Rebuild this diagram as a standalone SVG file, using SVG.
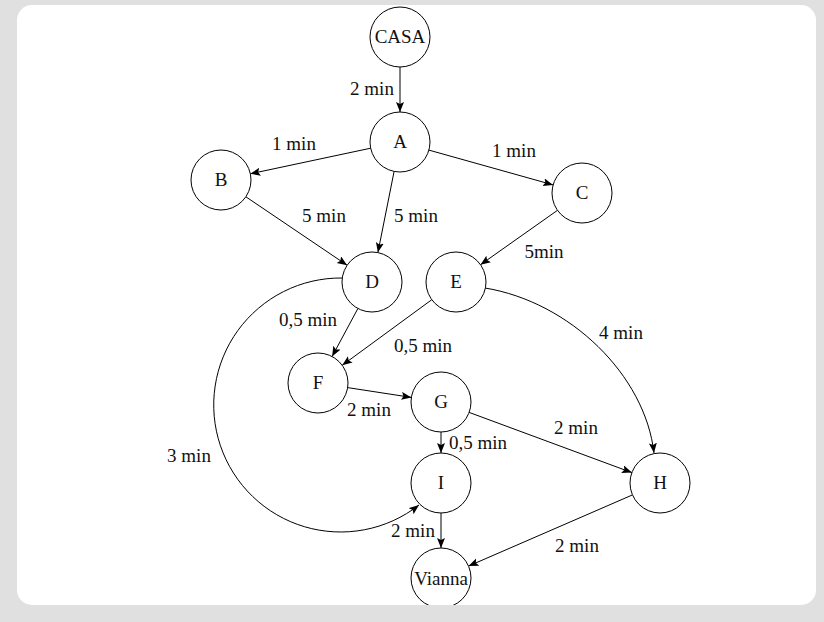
<svg xmlns="http://www.w3.org/2000/svg" width="824" height="622" viewBox="0 0 824 622">
<style>
.bg{fill:#e0e0e0}
.panel{fill:#ffffff}
.node circle{fill:#ffffff;stroke:#000;stroke-width:1}
.node text,.lbl{font-size:19px;fill:#111;text-anchor:middle}
.edge{fill:none;stroke:#000;stroke-width:1;marker-end:url(#arr)}
</style>
<defs>
<marker id="arr" markerUnits="userSpaceOnUse" markerWidth="11" markerHeight="9" refX="10" refY="4" orient="auto">
<path d="M0,0 L10,4 L0,8 L2,4 Z" fill="#000"/>
</marker>
<clipPath id="pc"><rect x="17" y="5" width="799" height="600" rx="15" ry="15"/></clipPath>
</defs>
<rect class="bg" x="0" y="0" width="824" height="622"/>
<rect class="panel" x="17" y="5" width="799" height="600" rx="15" ry="15"/>
<g clip-path="url(#pc)" font-family="'Liberation Serif', 'Times New Roman', 'DejaVu Serif', serif">
<g id="connectors">
<path class="edge" d="M400,67 L400,112"/>
<path class="edge" d="M370.7,148.2 L250.3,173.8"/>
<path class="edge" d="M428.9,150.1 L553.1,184.9"/>
<path class="edge" d="M394.1,171.4 L377.9,252.6"/>
<path class="edge" d="M245.9,196.8 L347.1,265.2"/>
<path class="edge" d="M557.5,210.3 L480.5,264.7"/>
<path class="edge" d="M357.9,308.5 L332.1,356.5"/>
<path class="edge" d="M431.8,299.7 L342.2,365.3"/>
<path class="edge" d="M347.6,387.6 L411.4,397.4"/>
<path class="edge" d="M469.1,412.4 L631.9,472.6"/>
<path class="edge" d="M441,432 L441,453"/>
<path class="edge" d="M441,513 L441,548"/>
<path class="edge" d="M632.5,494.9 L468.5,566.1"/>
<path class="edge" d="M485,288 C570,302 645,375 654,453"/>
<path class="edge" d="M342,278 A127,127 0 1 0 419,505"/>
</g>
<g id="edge-labels">
<text class="lbl" x="372" y="95">2 min</text>
<text class="lbl" x="294" y="150">1 min</text>
<text class="lbl" x="514" y="157">1 min</text>
<text class="lbl" x="324" y="222">5 min</text>
<text class="lbl" x="416" y="222">5 min</text>
<text class="lbl" x="544" y="258">5min</text>
<text class="lbl" x="308" y="326">0,5 min</text>
<text class="lbl" x="423" y="352">0,5 min</text>
<text class="lbl" x="621" y="339">4 min</text>
<text class="lbl" x="369" y="416">2 min</text>
<text class="lbl" x="576" y="434">2 min</text>
<text class="lbl" x="478" y="449">0,5 min</text>
<text class="lbl" x="189" y="462">3 min</text>
<text class="lbl" x="413" y="537">2 min</text>
<text class="lbl" x="577" y="552">2 min</text>
</g>
<g id="CASA" class="node"><circle cx="400" cy="37" r="30"/><text x="400" y="43">CASA</text></g>
<g id="A" class="node"><circle cx="400" cy="142" r="30"/><text x="400" y="148">A</text></g>
<g id="B" class="node"><circle cx="221" cy="180" r="30"/><text x="221" y="186">B</text></g>
<g id="C" class="node"><circle cx="582" cy="193" r="30"/><text x="582" y="199">C</text></g>
<g id="D" class="node"><circle cx="372" cy="282" r="30"/><text x="372" y="288">D</text></g>
<g id="E" class="node"><circle cx="456" cy="282" r="30"/><text x="456" y="288">E</text></g>
<g id="F" class="node"><circle cx="318" cy="383" r="30"/><text x="318" y="389">F</text></g>
<g id="G" class="node"><circle cx="441" cy="402" r="30"/><text x="441" y="408">G</text></g>
<g id="I" class="node"><circle cx="441" cy="483" r="30"/><text x="441" y="489">I</text></g>
<g id="H" class="node"><circle cx="660" cy="483" r="30"/><text x="660" y="489">H</text></g>
<g id="Vianna" class="node"><circle cx="441" cy="578" r="30"/><text x="441" y="585">Vianna</text></g>
</g>
</svg>
